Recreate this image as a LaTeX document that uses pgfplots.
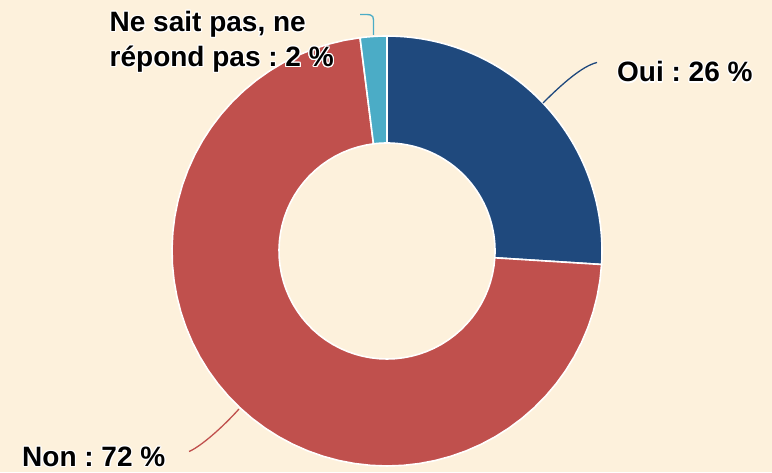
\documentclass[border=0pt]{standalone}
\usepackage{pgfplots}
\pgfplotsset{compat=1.18}
\usepackage{pgfplotstable}
\usepackage{fontspec}
\setmainfont{Liberation Sans}
\usepackage{contour}
\contourlength{1.1pt}
\frenchspacing
\definecolor{bg}{HTML}{FDF1DC}
\definecolor{cOui}{HTML}{1F497D}
\definecolor{cNon}{HTML}{C0504D}
\definecolor{cNsp}{HTML}{4BACC6}

\pgfplotstableread{
label value
Oui 26
Non 72
NSP 2
}\slices
\pgfplotstablegetelem{0}{value}\of\slices \edef\vA{\pgfplotsretval}
\pgfplotstablegetelem{1}{value}\of\slices \edef\vB{\pgfplotsretval}
\pgfplotstablegetelem{2}{value}\of\slices \edef\vC{\pgfplotsretval}
\pgfmathsetmacro\aA{90}
\pgfmathsetmacro\aB{90-3.6*\vA}
\pgfmathsetmacro\aC{\aB-3.6*\vB}
\pgfmathsetmacro\aD{\aC-3.6*\vC}

% sector: colour, start angle, end angle
\newcommand\sector[3]{%
  \addplot[fill=#1, draw=white, line width=1.6pt, line join=round,
    variable=\t, samples at={0,1,...,121}]
  ({387 + ((\t<60.5)*215 + (\t>60.5)*108)*cos((\t<60.5)*((#2)+((#3)-(#2))*\t/60) + (\t>60.5)*((#3)+((#2)-(#3))*(\t-61)/60))},
   {221 + ((\t<60.5)*215 + (\t>60.5)*108)*sin((\t<60.5)*((#2)+((#3)-(#2))*\t/60) + (\t>60.5)*((#3)+((#2)-(#3))*(\t-61)/60))}) -- cycle;
}
\tikzset{lab/.style={anchor=base west, inner sep=0pt, font=\fontsize{28}{34}\selectfont\bfseries}}

\begin{document}
\begin{tikzpicture}
\begin{axis}[
  width=772pt, height=472pt, scale only axis,
  xmin=0, xmax=772, ymin=0, ymax=472,
  hide axis, clip=false,
]
\addplot[fill=bg, draw=none] coordinates {(0,0) (772,0) (772,472) (0,472)} -- cycle;
\sector{cOui}{\aA}{\aB}
\sector{cNon}{\aB}{\aC}
\sector{cNsp}{\aC}{\aD}

% leader lines
\draw[cOui, line width=1.3pt] (axis cs:543,369) .. controls (axis cs:561,387) and (axis cs:582,406) .. (axis cs:597,409.5);
\draw[cNon, line width=1.3pt] (axis cs:239,63) .. controls (axis cs:222,44) and (axis cs:200,25) .. (axis cs:189,20.5);
\draw[cNsp, line width=1.3pt] (axis cs:373.5,437) -- (axis cs:373.5,452) .. controls (axis cs:373.5,458) and (axis cs:370,457.5) .. (axis cs:360,457.5);

\node[lab] at (axis cs:617,390) {\contour{white}{Oui : 26 \%}};
\node[lab] at (axis cs:22,5.5) {\contour{white}{Non : 72 \%}};
\node[lab] at (axis cs:109.5,440.3) {\contour{white}{Ne sait pas, ne}};
\node[lab] at (axis cs:109.5,405.3) {\contour{white}{répond pas : 2 \%}};
\end{axis}
\end{tikzpicture}
\end{document}
